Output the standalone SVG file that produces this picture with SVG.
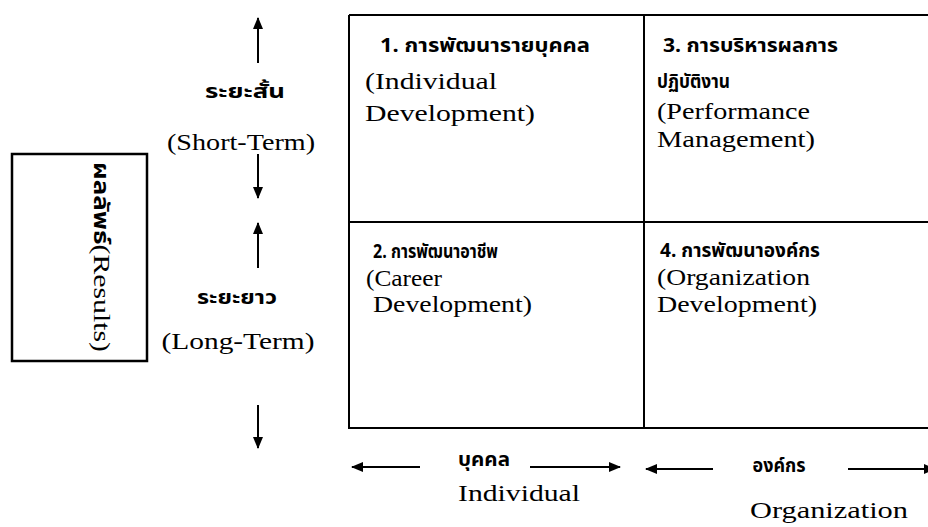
<svg xmlns="http://www.w3.org/2000/svg" width="928" height="527" viewBox="0 0 928 527">
<defs>
<marker id="ah" viewBox="0 0 12 10" refX="11" refY="5" markerWidth="12" markerHeight="10" markerUnits="userSpaceOnUse" orient="auto"><path d="M0,0 L12,5 L0,10 Z" fill="#000"/></marker>
<style>
.t{font-family:"Liberation Serif","Noto Serif Thai","Noto Sans Thai","Noto Sans",serif;font-size:24px;fill:#000}
.th{font-family:"Noto Sans Thai","Noto Serif Thai","Liberation Serif","Noto Sans",sans-serif;font-size:19px;font-weight:bold;fill:#000}
.ln{stroke:#000;stroke-width:2;fill:none}
.ar{stroke:#000;stroke-width:2;fill:none;marker-end:url(#ah)}
</style>
</defs>
<rect width="928" height="527" fill="#fff"/>
<g id="results">
<rect x="12" y="154" width="135" height="207" fill="none" stroke="#000" stroke-width="2.5"/>
<text class="t" transform="translate(94,162) rotate(90)" textLength="190" lengthAdjust="spacingAndGlyphs"><tspan font-family="Noto Sans Thai, Noto Serif Thai, sans-serif" font-weight="bold" font-size="21">ผลลัพธ์</tspan>(Results)</text>
</g>
<g id="grid">
<path class="ln" d="M349,15 H928 M349,15 V428 H928 M349,222 H928 M644,15 V428"/>
</g>
<g id="q1">
<text class="th" x="380" y="52" textLength="210" lengthAdjust="spacingAndGlyphs">1. การพัฒนารายบุคคล</text>
<text class="t" x="365" y="89" textLength="132" lengthAdjust="spacingAndGlyphs">(Individual</text>
<text class="t" x="365" y="121" textLength="170" lengthAdjust="spacingAndGlyphs">Development)</text>
</g>
<g id="q3">
<text class="th" x="663" y="52" textLength="175" lengthAdjust="spacingAndGlyphs">3. การบริหารผลการ</text>
<text class="th" x="657" y="88" textLength="73" lengthAdjust="spacingAndGlyphs">ปฏิบัติงาน</text>
<text class="t" x="657" y="119" textLength="153" lengthAdjust="spacingAndGlyphs">(Performance</text>
<text class="t" x="657" y="147" textLength="158" lengthAdjust="spacingAndGlyphs">Management)</text>
</g>
<g id="q2">
<text class="th" x="373" y="258" textLength="125" lengthAdjust="spacingAndGlyphs">2. การพัฒนาอาชีพ</text>
<text class="t" x="366" y="286" textLength="76" lengthAdjust="spacingAndGlyphs">(Career</text>
<text class="t" x="373" y="312" textLength="159" lengthAdjust="spacingAndGlyphs">Development)</text>
</g>
<g id="q4">
<text class="th" x="660" y="257" textLength="160" lengthAdjust="spacingAndGlyphs">4. การพัฒนาองค์กร</text>
<text class="t" x="657" y="285" textLength="153" lengthAdjust="spacingAndGlyphs">(Organization</text>
<text class="t" x="657" y="312" textLength="160" lengthAdjust="spacingAndGlyphs">Development)</text>
</g>
<g id="short-term">
<text class="th" x="245" y="98" text-anchor="middle" textLength="80" lengthAdjust="spacingAndGlyphs">ระยะสั้น</text>
<text class="t" x="241" y="150" text-anchor="middle" textLength="148" lengthAdjust="spacingAndGlyphs">(Short-Term)</text>
</g>
<g id="long-term">
<text class="th" x="237" y="304" text-anchor="middle" textLength="80" lengthAdjust="spacingAndGlyphs">ระยะยาว</text>
<text class="t" x="238" y="349" text-anchor="middle" textLength="153" lengthAdjust="spacingAndGlyphs">(Long-Term)</text>
</g>
<g id="individual">
<text class="th" x="484" y="466" text-anchor="middle" textLength="52" lengthAdjust="spacingAndGlyphs">บุคคล</text>
<text class="t" x="519" y="501" text-anchor="middle" textLength="122" lengthAdjust="spacingAndGlyphs">Individual</text>
</g>
<g id="organization">
<text class="th" x="779" y="472" text-anchor="middle" textLength="53" lengthAdjust="spacingAndGlyphs">องค์กร</text>
<text class="t" x="829" y="518" text-anchor="middle" textLength="158" lengthAdjust="spacingAndGlyphs">Organization</text>
</g>
<g id="connectors">
<line class="ar" x1="258" y1="63" x2="258" y2="18"/>
<line class="ar" x1="258" y1="154" x2="258" y2="198"/>
<line class="ar" x1="258" y1="268" x2="258" y2="223"/>
<line class="ar" x1="258" y1="405" x2="258" y2="448"/>
<line class="ar" x1="420" y1="467" x2="352" y2="467"/>
<line class="ar" x1="530" y1="467" x2="620" y2="467"/>
<line class="ar" x1="713" y1="469" x2="646" y2="469"/>
<line class="ar" x1="848" y1="469" x2="935" y2="469"/>
</g>
</svg>
